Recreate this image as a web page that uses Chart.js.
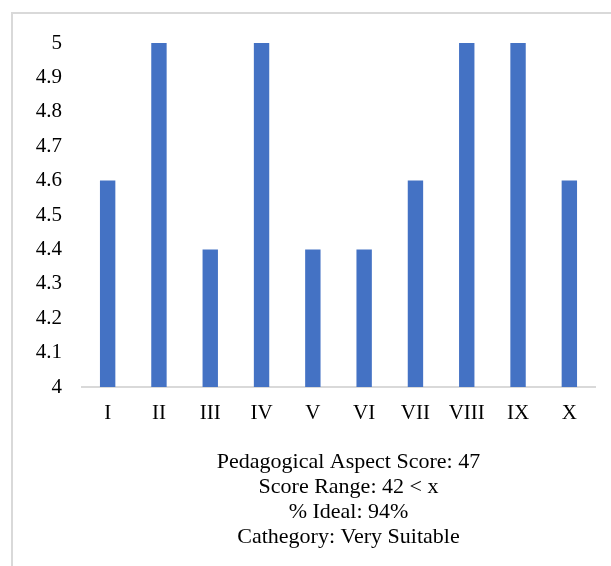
<!DOCTYPE html>
<html>
<head>
<meta charset="utf-8">
<script src="https://cdn.jsdelivr.net/npm/chart.js@4/dist/chart.umd.min.js"></script>
<style>
  html, body { margin: 0; padding: 0; background: #fff; overflow: hidden; }
  #frame { position: absolute; left: 11px; top: 12px; width: 800px; height: 800px; border: 2px solid #d9d9d9; box-sizing: border-box; }
  #wrap { position: absolute; left: 0; top: 0; width: 611px; height: 566px; }
</style>
</head>
<body>
<div id="frame"></div>
<div id="wrap"><canvas id="c" width="611" height="566"></canvas></div>
<script>
const categories = ["I", "II", "III", "IV", "V", "VI", "VII", "VIII", "IX", "X"];
const scores = [4.6, 5, 4.4, 5, 4.4, 4.4, 4.6, 5, 5, 4.6];
const summaryLines = [
  "Pedagogical Aspect Score: 47",
  "Score Range: 42 < x",
  "% Ideal: 94%",
  "Cathegory: Very Suitable"
];
const yMin = 4, yMax = 5, yStep = 0.1;

const FONT = "'Liberation Serif', 'Times New Roman', serif";

const summaryPlugin = {
  id: 'summary',
  afterDraw(chart) {
    const ctx = chart.ctx;
    const a = chart.chartArea;
    const cx = (a.left + a.right) / 2 + 10;
    ctx.save();
    ctx.fillStyle = '#000';
    ctx.font = '22px ' + FONT;
    ctx.textAlign = 'center';
    ctx.textBaseline = 'middle';
    summaryLines.forEach((line, i) => {
      ctx.fillText(line, cx, a.bottom + 75 + i * 25);
    });
    ctx.restore();
  }
};

new Chart(document.getElementById('c'), {
  type: 'bar',
  data: {
    labels: categories,
    datasets: [{
      data: scores,
      backgroundColor: '#4472C4',
      borderWidth: 0,
      barPercentage: 0.6,
      categoryPercentage: 0.5
    }]
  },
  options: {
    responsive: false,
    animation: false,
    layout: { padding: { left: 0, right: 16, top: 43, bottom: 129 } },
    plugins: {
      legend: { display: false },
      tooltip: { enabled: false },
      title: { display: false }
    },
    scales: {
      x: {
        grid: { display: false, drawTicks: false },
        border: { display: true, color: '#d9d9d9', width: 2 },
        ticks: { color: '#000', font: { family: FONT, size: 21 }, padding: 14, maxRotation: 0 },
        afterFit: s => { s.height = 50; }
      },
      y: {
        min: yMin, max: yMax,
        grid: { display: false, drawTicks: false },
        border: { display: false },
        ticks: {
          stepSize: yStep,
          color: '#000',
          font: { family: FONT, size: 21 },
          padding: 20,
          callback: v => String(Math.round(v * 10) / 10)
        },
        afterFit: s => { s.width = 82; }
      }
    }
  },
  plugins: [summaryPlugin]
});
</script>
</body>
</html>
